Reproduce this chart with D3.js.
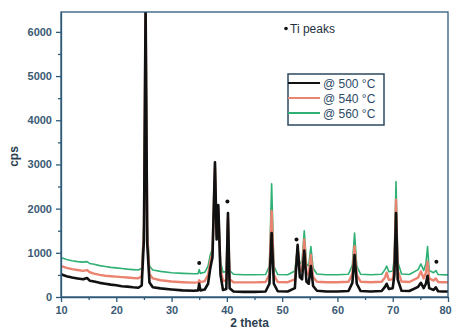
<!DOCTYPE html>
<html>
<head>
<meta charset="utf-8">
<style>
  body { margin: 0; background: #fff; }
  svg { display: block; font-family: "Liberation Sans", Arial, sans-serif; }
  .axis path, .axis line { stroke: #2d5a78; stroke-width: 1.3px; }
  .axis text { fill: #3b5a74; font-size: 11px; font-weight: bold; }
  .frame { fill: none; stroke: #2d5a78; stroke-width: 1.3px; }
  .trace { fill: none; stroke-linejoin: round; }
  .label { fill: #2b3f52; font-weight: bold; font-size: 12px; }
  .leg text { fill: #2b4a66; font-size: 12px; }
</style>
</head>
<body>
<div id="chart"></div>
<script src="https://cdn.jsdelivr.net/npm/d3@7"></script>
<script>
  // 2 theta positions shared by the three patterns
  var theta = [10.0, 10.5, 11.0, 12.0, 13.0, 14.0, 14.7, 15.2, 16.0, 17.0, 18.0, 19.0, 20.0,
    21.0, 22.0, 23.0, 24.0, 24.6, 25.0, 25.3, 25.6, 26.0, 26.6, 28.0, 30.0, 32.0, 34.0,
    34.8, 35.0, 35.2, 36.0, 36.6, 37.0, 37.4, 37.85, 38.15, 38.45, 38.85, 39.3, 39.9, 40.2,
    40.5, 41.2, 43.0, 45.0, 47.0, 47.7, 48.1, 48.5, 49.2, 51.0, 52.3, 52.8, 53.2, 53.6,
    54.0, 54.4, 54.8, 55.2, 55.6, 56.3, 58.0, 60.0, 62.0, 62.7, 63.1, 63.5, 64.2, 66.0,
    68.0, 68.6, 68.9, 69.3, 70.0, 70.3, 70.6, 70.9, 71.6, 73.0, 74.6, 75.1, 75.6, 76.0,
    76.3, 76.6, 77.4, 77.8, 78.2, 79.0, 80.0];

  var cps500 = [520, 490, 470, 440, 420, 400, 430, 370, 350, 320, 300, 280, 265,
    245, 235, 220, 210, 260, 1300, 6600, 1200, 330, 220, 195, 170, 150, 140,
    150, 300, 150, 170, 300, 650, 900, 3050, 1300, 2080, 500, 160, 180, 1900,
    200, 125, 115, 115, 125, 300, 1450, 300, 130, 125, 200, 1180, 450, 400,
    1050, 350, 300, 700, 250, 140, 125, 125, 135, 320, 950, 300, 135, 125,
    135, 230, 300, 180, 200, 500, 1900, 400, 140, 135, 230, 320, 200, 300,
    480, 200, 160, 220, 130, 125, 125];

  var cps540 = [700, 680, 660, 630, 610, 590, 610, 560, 530, 500, 480, 470, 460,
    450, 440, 430, 425, 470, 1500, 6600, 1400, 520, 420, 380, 350, 335, 325,
    330, 380, 335, 360, 500, 800, 1000, 2950, 1400, 2000, 650, 360, 380, 1800,
    400, 335, 330, 330, 340, 500, 1950, 500, 340, 335, 400, 1100, 600, 600,
    1300, 550, 500, 950, 450, 345, 335, 335, 345, 520, 1150, 500, 345, 335,
    345, 440, 550, 390, 400, 700, 2200, 600, 350, 340, 440, 580, 420, 550,
    800, 420, 370, 420, 340, 335, 335];

  var cps560 = [890, 870, 850, 820, 800, 790, 800, 760, 740, 710, 690, 670, 660,
    645, 630, 620, 610, 650, 1700, 6600, 1600, 700, 610, 580, 550, 535, 525,
    530, 620, 535, 560, 700, 950, 1100, 2900, 1500, 1950, 800, 560, 580, 1850,
    600, 515, 505, 505, 510, 700, 2560, 700, 510, 505, 590, 1150, 750, 800,
    1500, 750, 700, 1140, 650, 520, 505, 505, 515, 720, 1450, 700, 515, 505,
    515, 620, 700, 570, 590, 900, 2610, 800, 520, 510, 620, 750, 600, 750,
    1140, 600, 550, 600, 510, 505, 500];

  var seriesNames = ["@ 500 °C", "@ 540 °C", "@ 560 °C"];
  var seriesColors = ["#111111", "#ea8470", "#2fb074"];
  var seriesWidths = [2.6, 2.4, 1.6];

  // Ti peak markers [2 theta, cps]
  var tiMarks = [[35.0, 770], [40.1, 2160], [52.6, 1300], [77.9, 800]];

  var xTicks = [10, 20, 30, 40, 50, 60, 70, 80];
  var yTicks = [0, 1000, 2000, 3000, 4000, 5000, 6000];

  var width = 452, height = 329;
  var margin = {top: 12, right: 4, bottom: 32, left: 61};
  var w = width - margin.left - margin.right,
      h = height - margin.top - margin.bottom;

  var svg = d3.select("#chart").append("svg")
      .attr("width", width)
      .attr("height", height);

  var g = svg.append("g").attr("transform", "translate(" + margin.left + "," + margin.top + ")");

  var x = d3.scaleLinear().domain([10, 80]).range([0, w]);
  var y = d3.scaleLinear().domain([0, 6450]).range([h, 0]);

  g.append("clipPath").attr("id", "clip")
    .append("rect").attr("width", w).attr("height", h);

  var line = d3.line()
      .x(function(d) { return x(d[0]); })
      .y(function(d) { return y(d[1]); });

  var series = [cps500, cps540, cps560];
  // draw 560 first, 500 last
  [2, 1, 0].forEach(function(i) {
    var pts = theta.map(function(t, j) { return [t, series[i][j]]; });
    g.append("path")
      .attr("class", "trace")
      .attr("clip-path", "url(#clip)")
      .attr("d", line(pts))
      .attr("stroke", seriesColors[i])
      .attr("stroke-width", seriesWidths[i]);
  });

  g.selectAll(".ti").data(tiMarks).enter().append("circle")
    .attr("cx", function(d) { return x(d[0]); })
    .attr("cy", function(d) { return y(d[1]); })
    .attr("r", 2)
    .attr("fill", "#111");

  // minor ticks
  g.append("g").attr("class", "axis")
    .attr("transform", "translate(0," + h + ")")
    .call(d3.axisBottom(x).tickValues(d3.range(15, 80, 10)).tickSize(3).tickFormat(""))
    .select(".domain").remove();
  g.append("g").attr("class", "axis")
    .call(d3.axisLeft(y).tickValues(d3.range(500, 6450, 1000)).tickSize(3).tickFormat(""))
    .select(".domain").remove();

  var xAxisG = g.append("g").attr("class", "axis")
    .attr("transform", "translate(0," + h + ")")
    .call(d3.axisBottom(x).tickValues(xTicks).tickSize(5).tickSizeOuter(0).tickPadding(4));
  // last label sits right at the edge, nudge it in a bit
  xAxisG.selectAll(".tick text").filter(function(d) { return d === 80; }).attr("dx", -3);

  g.append("g").attr("class", "axis")
    .call(d3.axisLeft(y).tickValues(yTicks).tickFormat(d3.format("d"))
      .tickSize(5).tickSizeOuter(0).tickPadding(4));

  g.append("rect").attr("class", "frame").attr("width", w).attr("height", h);

  g.append("text").attr("class", "label")
    .attr("x", w / 2 - 5).attr("y", h + 30)
    .attr("text-anchor", "middle")
    .text("2 theta");
  g.append("text").attr("class", "label")
    .attr("transform", "translate(-43," + (h / 2 + 2) + ") rotate(-90)")
    .attr("text-anchor", "middle")
    .text("cps");

  // Ti peaks note
  g.append("circle").attr("cx", 225).attr("cy", 16.5).attr("r", 1.8).attr("fill", "#111");
  g.append("text").attr("x", 229).attr("y", 21)
    .attr("fill", "#1f2f40").attr("font-size", "12px")
    .text("Ti peaks");

  // legend
  var leg = g.append("g").attr("class", "leg").attr("transform", "translate(227,62)");
  leg.append("rect").attr("width", 96).attr("height", 51)
    .attr("fill", "#fff").attr("stroke", "#2d4a60").attr("stroke-width", 1.5);
  seriesNames.forEach(function(name, i) {
    var yy = 9 + i * 15;
    leg.append("line").attr("x1", 0).attr("x2", 32).attr("y1", yy).attr("y2", yy)
      .attr("stroke", seriesColors[i]).attr("stroke-width", 2);
    leg.append("text").attr("x", 35).attr("y", yy + 4.5).text(name);
  });
</script>
</body>
</html>
